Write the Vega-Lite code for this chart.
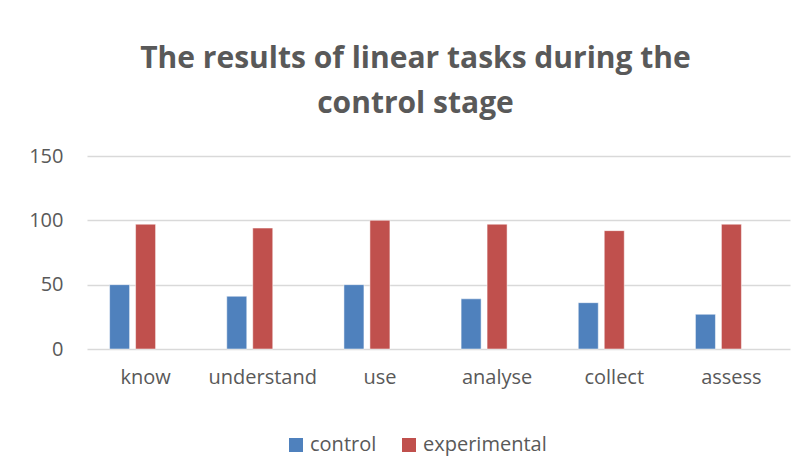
{
  "$schema": "https://vega.github.io/schema/vega-lite/v6.json",
  "autosize": {"type": "none"},
  "width": 703,
  "height": 193,
  "padding": {"left": 87, "top": 156, "right": 16, "bottom": 117},
  "background": "white",
  "title": {
    "text": ["The results of linear tasks during the", "control stage"],
    "font": "Open Sans",
    "fontWeight": "bold",
    "fontSize": 30,
    "color": "#595959",
    "lineHeight": 45,
    "anchor": "middle",
    "dx": -23,
    "offset": 27
  },
  "data": {
    "values": [
      {"task": "know", "group": "control", "value": 50},
      {"task": "know", "group": "experimental", "value": 97},
      {"task": "understand", "group": "control", "value": 41},
      {"task": "understand", "group": "experimental", "value": 94},
      {"task": "use", "group": "control", "value": 50},
      {"task": "use", "group": "experimental", "value": 100},
      {"task": "analyse", "group": "control", "value": 39},
      {"task": "analyse", "group": "experimental", "value": 97},
      {"task": "collect", "group": "control", "value": 36},
      {"task": "collect", "group": "experimental", "value": 92},
      {"task": "assess", "group": "control", "value": 27},
      {"task": "assess", "group": "experimental", "value": 97}
    ]
  },
  "mark": {"type": "bar", "stroke": "white", "strokeWidth": 0.5},
  "encoding": {
    "x": {
      "field": "task",
      "type": "nominal",
      "sort": ["know", "understand", "use", "analyse", "collect", "assess"],
      "scale": {"paddingInner": 0, "paddingOuter": 0},
      "axis": {
        "title": null,
        "domain": false,
        "ticks": false,
        "labelAngle": 0,
        "labelFont": "Open Sans",
        "labelFontSize": 20,
        "labelColor": "#595959",
        "labelPadding": 18
      }
    },
    "xOffset": {
      "field": "group",
      "type": "nominal",
      "scale": {"domain": ["control", "experimental", "blank"], "paddingInner": 0.23, "paddingOuter": 0.87}
    },
    "y": {
      "field": "value",
      "type": "quantitative",
      "scale": {"domain": [0, 150], "nice": false},
      "axis": {
        "title": null,
        "values": [0, 50, 100, 150],
        "domain": false,
        "ticks": false,
        "labelFont": "Open Sans",
        "labelFontSize": 20,
        "labelColor": "#595959",
        "labelPadding": 24,
        "gridColor": "#d9d9d9",
        "gridWidth": 1.5
      }
    },
    "color": {
      "field": "group",
      "type": "nominal",
      "scale": {"domain": ["control", "experimental"], "range": ["#4f81bd", "#c0504d"]},
      "legend": {
        "title": null,
        "orient": "none",
        "direction": "horizontal",
        "legendX": 199,
        "legendY": 279,
        "symbolType": "square",
        "symbolSize": 196,
        "symbolStrokeWidth": 0,
        "labelFont": "Open Sans",
        "labelFontSize": 20,
        "labelColor": "#595959",
        "labelOffset": 4,
        "columnPadding": 22
      }
    }
  },
  "config": {"view": {"stroke": null}}
}
